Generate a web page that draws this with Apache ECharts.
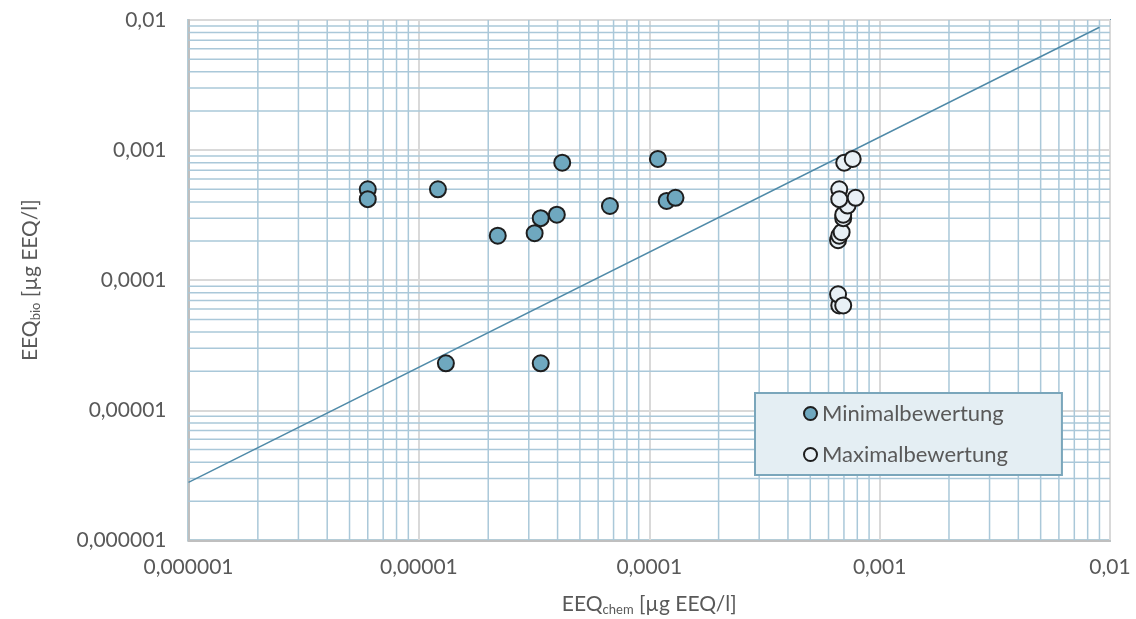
<!DOCTYPE html>
<html>
<head>
<meta charset="utf-8">
<script src="https://cdn.jsdelivr.net/npm/echarts@6/dist/echarts.min.js"></script>
<style>html,body{margin:0;padding:0;background:#fff;}#c{width:1136px;height:619px;}</style>
</head>
<body>
<div id="c"></div>
<script>
// ---- data ----
const tickValues = [0.000001, 0.00001, 0.0001, 0.001, 0.01];
const tickLabels = ['0,000001', '0,00001', '0,0001', '0,001', '0,01'];

const minChem = [6.0e-6, 6.0e-6, 1.21e-5, 2.2e-5, 3.18e-5, 3.38e-5, 3.97e-5, 4.19e-5, 6.75e-5, 1.09e-4, 1.19e-4, 1.30e-4, 1.31e-5, 3.38e-5];
const minBio  = [5.0e-4, 4.2e-4, 5.0e-4, 2.2e-4, 2.3e-4, 3.0e-4, 3.19e-4, 8.0e-4, 3.72e-4, 8.55e-4, 4.07e-4, 4.3e-4, 2.3e-5, 2.3e-5];

const maxChem = [6.68e-4, 6.6e-4, 6.6e-4, 6.68e-4, 6.95e-4, 6.84e-4, 6.68e-4, 6.95e-4, 6.95e-4, 7.26e-4, 7.87e-4, 6.68e-4, 7.02e-4, 7.64e-4];
const maxBio  = [6.4e-5, 7.8e-5, 2.03e-4, 2.2e-4, 6.4e-5, 2.34e-4, 5.0e-4, 3.0e-4, 3.19e-4, 3.75e-4, 4.3e-4, 4.2e-4, 8.0e-4, 8.55e-4];

const trendChem = [0.000001, 0.009];
const trendBio  = [0.0000028, 0.0088];

const seriesNames = ['Minimalbewertung', 'Maximalbewertung'];

// ---- helpers ----
const AX_MIN = 0.000001, AX_MAX = 0.01;
const zip = (a, b) => a.map((v, i) => [v, b[i]]);
const labelFor = v => {
  const i = tickValues.findIndex(t => Math.abs(Math.log10(t) - Math.log10(v)) < 1e-6);
  return i >= 0 ? tickLabels[i] : '';
};
// minor grid positions (2..9 per decade) for the log grid
const minorPos = [];
for (let d = -6; d < -2; d++) for (let m = 2; m <= 9; m++) minorPos.push(m * Math.pow(10, d));
// [x, y, orientation] : 0 = vertical line at x, 1 = horizontal line at y
const gridData = minorPos.map(v => [v, AX_MIN, 0]).concat(minorPos.map(v => [AX_MIN, v, 1]));

const FONT = 'Lato';
const TXT = '#595959';
const MINOR = '#aac8d9';

const chart = echarts.init(document.getElementById('c'), null, {renderer: 'canvas'});
chart.setOption({
  animation: false,
  backgroundColor: '#ffffff',
  textStyle: {fontFamily: FONT},
  grid: {left: 188.5, right: 26, top: 20, bottom: 78.5, show: true, borderColor: '#6a9bb2', borderWidth: 2,
         backgroundColor: 'transparent', containLabel: false, outerBoundsMode: 'none'},
  xAxis: {
    type: 'log', logBase: 10, min: AX_MIN, max: AX_MAX,
    axisLine: {show: true, lineStyle: {color: '#bfbfbf', width: 2}},
    axisTick: {show: false},
    splitLine: {show: true, lineStyle: {color: '#d9d9d9', width: 2}},
    axisLabel: {formatter: v => labelFor(v), color: TXT, fontSize: 21, fontFamily: FONT, margin: 16},
    name: '{a|EEQ}{s|chem}{a| [µg EEQ/l]}',
    nameLocation: 'middle', nameGap: 52,
    nameTextStyle: {rich: {
      a: {fontSize: 21, color: TXT, fontFamily: FONT, lineHeight: 24, verticalAlign: 'middle'},
      s: {fontSize: 13, color: TXT, fontFamily: FONT, lineHeight: 24, verticalAlign: 'bottom', padding: [8, 0, 0, 0]}
    }}
  },
  yAxis: {
    type: 'log', logBase: 10, min: AX_MIN, max: AX_MAX,
    axisLine: {show: true, lineStyle: {color: '#bfbfbf', width: 2}},
    axisTick: {show: false},
    splitLine: {show: true, lineStyle: {color: '#d9d9d9', width: 2}},
    axisLabel: {formatter: v => labelFor(v), color: TXT, fontSize: 21, fontFamily: FONT, margin: 22},
    name: '{a|EEQ}{s|bio}{a| [µg EEQ/l]}',
    nameLocation: 'middle', nameGap: 146, nameRotate: 90,
    nameTextStyle: {rich: {
      a: {fontSize: 21, color: TXT, fontFamily: FONT, lineHeight: 24, verticalAlign: 'middle'},
      s: {fontSize: 13, color: TXT, fontFamily: FONT, lineHeight: 24, verticalAlign: 'bottom', padding: [8, 0, 0, 0]}
    }}
  },
  legend: {
    data: seriesNames,
    orient: 'vertical', left: 755, top: 393,
    backgroundColor: '#e4eef3', borderColor: '#7aa6bb', borderWidth: 2, borderRadius: 0,
    padding: [8, 54, 8, 48],
    itemGap: 16, itemWidth: 13, itemHeight: 13, icon: 'circle',
    textStyle: {fontSize: 22, color: TXT, fontFamily: FONT, lineHeight: 25},
    selectedMode: false
  },
  series: [
    {
      type: 'custom', name: 'minor-grid', data: gridData, z: 1, silent: true,
      encode: {x: 0, y: 1},
      clip: true,
      renderItem: function (params, api) {
        const orient = api.value(2);
        let p1, p2;
        if (orient === 0) {
          p1 = api.coord([api.value(0), AX_MIN]);
          p2 = api.coord([api.value(0), AX_MAX]);
        } else {
          p1 = api.coord([AX_MIN, api.value(1)]);
          p2 = api.coord([AX_MAX, api.value(1)]);
        }
        return {
          type: 'line',
          shape: {x1: p1[0], y1: p1[1], x2: p2[0], y2: p2[1]},
          style: {stroke: MINOR, lineWidth: 1.5, fill: null}
        };
      }
    },
    {
      type: 'line', name: 'trend', data: zip(trendChem, trendBio), z: 2,
      showSymbol: false, symbol: 'none', silent: true,
      lineStyle: {color: '#4f8aa8', width: 1.5}
    },
    {
      type: 'scatter', name: seriesNames[0], data: zip(minChem, minBio), z: 3,
      symbol: 'circle', symbolSize: 16,
      itemStyle: {color: '#6fa8bf', borderColor: '#1e1e1e', borderWidth: 2, opacity: 1}
    },
    {
      type: 'scatter', name: seriesNames[1], data: zip(maxChem, maxBio), z: 4,
      symbol: 'circle', symbolSize: 16,
      itemStyle: {color: '#e8f0f5', borderColor: '#1e1e1e', borderWidth: 2, opacity: 1}
    }
  ]
});
</script>
</body>
</html>
